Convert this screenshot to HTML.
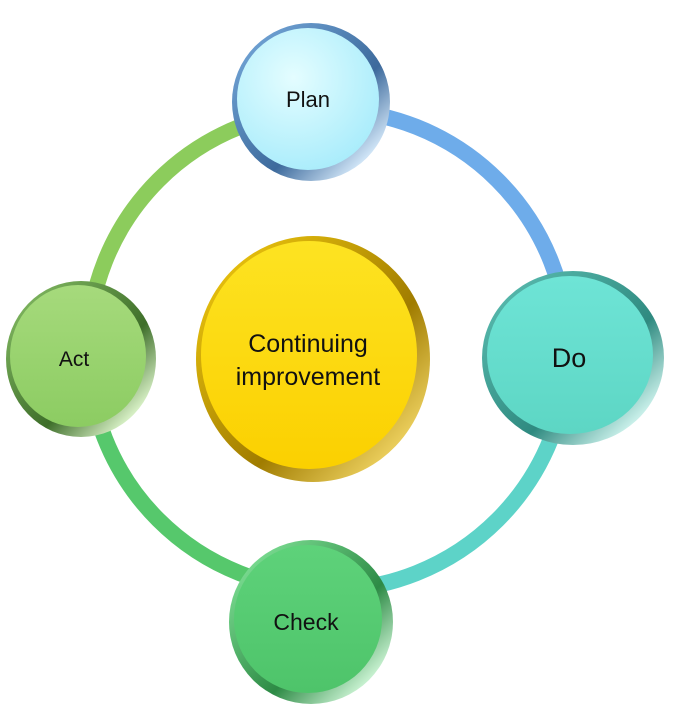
<!DOCTYPE html>
<html><head><meta charset="utf-8"><style>
html,body{margin:0;padding:0;background:#fff;width:676px;height:714px;overflow:hidden}
svg{display:block}
text{font-family:"Liberation Sans",sans-serif;fill:#111;text-anchor:middle}
</style></head><body>
<svg width="676" height="714" viewBox="0 0 676 714">
<defs>
<radialGradient id="gp" cx="0.4" cy="0.35" r="0.7"><stop offset="0" stop-color="#e4fdff"/><stop offset="1" stop-color="#a8ecfb"/></radialGradient>
<linearGradient id="rp" x1="0" y1="0" x2="1" y2="1"><stop offset="0" stop-color="#7aaee0"/><stop offset="0.6" stop-color="#3d6a9c"/><stop offset="0.85" stop-color="#cfe4f6"/><stop offset="1" stop-color="#4a78a8"/></linearGradient>
<linearGradient id="gd" x1="0" y1="0" x2="0" y2="1"><stop offset="0" stop-color="#6ee4d6"/><stop offset="1" stop-color="#5dd6c4"/></linearGradient>
<linearGradient id="rd" x1="0" y1="0" x2="1" y2="1"><stop offset="0" stop-color="#5fc2b6"/><stop offset="0.6" stop-color="#2f8a80"/><stop offset="0.85" stop-color="#c8efe9"/><stop offset="1" stop-color="#3f9a8e"/></linearGradient>
<linearGradient id="gc" x1="0" y1="0" x2="0" y2="1"><stop offset="0" stop-color="#5ed27a"/><stop offset="1" stop-color="#4ec46a"/></linearGradient>
<linearGradient id="rc" x1="0" y1="0" x2="1" y2="1"><stop offset="0" stop-color="#8ef0a4"/><stop offset="0.6" stop-color="#2d8a45"/><stop offset="0.85" stop-color="#c6f0cf"/><stop offset="1" stop-color="#3a9a52"/></linearGradient>
<linearGradient id="ga" x1="0" y1="0" x2="0" y2="1"><stop offset="0" stop-color="#a6da7c"/><stop offset="1" stop-color="#8ccc62"/></linearGradient>
<linearGradient id="ra" x1="0" y1="0" x2="1" y2="1"><stop offset="0" stop-color="#8cc46a"/><stop offset="0.6" stop-color="#3e6e2a"/><stop offset="0.85" stop-color="#d6efc4"/><stop offset="1" stop-color="#4f8a38"/></linearGradient>
<linearGradient id="gy" x1="0" y1="0" x2="0" y2="1"><stop offset="0" stop-color="#fde322"/><stop offset="1" stop-color="#fbd000"/></linearGradient>
<linearGradient id="ry" x1="0" y1="0" x2="1" y2="1"><stop offset="0" stop-color="#f8d010"/><stop offset="0.6" stop-color="#a07c00"/><stop offset="0.85" stop-color="#e9cc5a"/><stop offset="1" stop-color="#b89000"/></linearGradient>
</defs>
<!-- ring segments -->
<g fill="none" stroke-width="16">
<path d="M328 110 A240 240 0 0 1 568 350" stroke="#6eacea"/>
<path d="M568 350 A240 240 0 0 1 328 590" stroke="#5dd3c8"/>
<path d="M328 590 A240 240 0 0 1 88 350" stroke="#56c86c"/>
<path d="M88 350 A240 240 0 0 1 328 110" stroke="#8ccc5c"/>
</g>
<!-- nodes -->
<circle cx="311" cy="102" r="79" fill="url(#rp)"/>
<circle cx="308" cy="99" r="71" fill="url(#gp)"/>
<text x="308" y="107" font-size="22">Plan</text>

<ellipse cx="573" cy="358" rx="91" ry="87" fill="url(#rd)"/>
<ellipse cx="570" cy="355" rx="83" ry="79" fill="url(#gd)"/>
<text x="569" y="367" font-size="27">Do</text>

<circle cx="311" cy="622" r="82" fill="url(#rc)"/>
<circle cx="308" cy="619" r="74" fill="url(#gc)"/>
<text x="306" y="630" font-size="23">Check</text>

<ellipse cx="81" cy="359" rx="75" ry="78" fill="url(#ra)"/>
<ellipse cx="78" cy="356" rx="68" ry="71" fill="url(#ga)"/>
<text x="74" y="366" font-size="21">Act</text>

<ellipse cx="313" cy="359" rx="117" ry="123" fill="url(#ry)"/>
<ellipse cx="309" cy="355" rx="108" ry="114" fill="url(#gy)"/>
<text x="308" y="352" font-size="25">Continuing</text>
<text x="308" y="385" font-size="25">improvement</text>
</svg>
</body></html>
